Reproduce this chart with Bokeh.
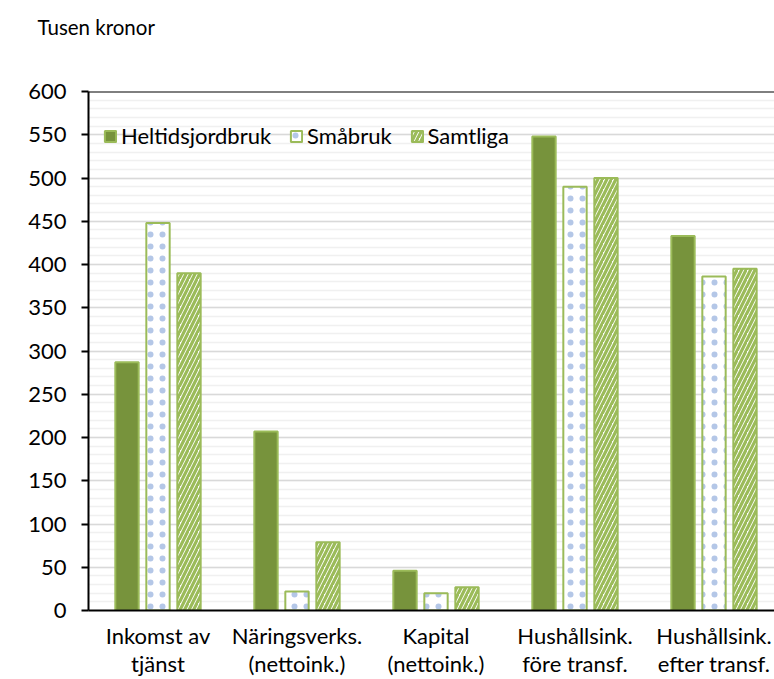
from bokeh.plotting import figure
from bokeh.models import (Range1d, FixedTicker, SingleIntervalTicker, Span, Legend,
                          LegendItem, Title, ColumnDataSource)
from bokeh.transform import dodge
from bokeh.embed import file_html
from bokeh.resources import INLINE

# ---- data ----
categories = ["Inkomst av\ntjänst", "Näringsverks.\n(nettoink.)", "Kapital\n(nettoink.)",
              "Hushållsink.\nföre transf.", "Hushållsink.\nefter transf."]
series = ["Heltidsjordbruk", "Småbruk", "Samtliga"]
heltidsjordbruk = [287, 207, 46, 548, 433]
smabruk = [448, 22, 20, 490, 386]
samtliga = [390, 79, 27, 500, 395]
y_tick_step = 50
y_max = 600
title_text = "Tusen kronor"

FONT = "Lato"
FS = "22px"
GREEN_DARK = "#77933C"
GREEN = "#9BBB59"
BLUE = "#4472C4"

W, H = 774, 679
LEFT = 88
xs = [i + 0.5 for i in range(len(categories))]
src = ColumnDataSource(dict(x=xs, h=heltidsjordbruk, s=smabruk, a=samtliga))

p = figure(width=W, height=H, x_range=Range1d(0, (W - LEFT) / 139.0), y_range=Range1d(0, y_max),
           output_backend="svg", toolbar_location=None,
           min_border_left=LEFT, min_border_right=0, min_border_bottom=60, min_border_top=0)
p.outline_line_color = None
p.background_fill_color = "white"

# spacer between title and plot frame (blank panel)
spacer = Title(text=" ", text_font_size="10px", standoff=28)
p.add_layout(spacer, "above")
t = Title(text=title_text, align="left", offset=-51, text_font=FONT, text_font_size="20.5px",
          text_font_style="normal", text_color="#000000", standoff=24)
p.title = t

bw = 0.168
off = 0.223
r1 = p.vbar(x=dodge("x", -off, range=p.x_range), top="h", width=bw, source=src,
            fill_color=GREEN_DARK, line_color=GREEN, line_width=2)
r2 = p.vbar(x=dodge("x", 0, range=p.x_range), top="s", width=bw, source=src,
            fill_color="white", line_color=GREEN, line_width=2,
            hatch_pattern="dot", hatch_color=BLUE, hatch_scale=12, hatch_weight=0.3,
            hatch_alpha=0.4)
r3 = p.vbar(x=dodge("x", off, range=p.x_range), top="a", width=bw, source=src,
            fill_color="white", line_color=GREEN, line_width=2,
            hatch_pattern="/", hatch_color=GREEN, hatch_scale=9, hatch_weight=3.2)

# y axis
yt = SingleIntervalTicker(interval=y_tick_step, num_minor_ticks=5)
p.yaxis.ticker = yt
p.ygrid.ticker = yt
p.yaxis.axis_line_color = "black"
p.yaxis.axis_line_width = 2
p.yaxis.major_tick_line_color = "black"
p.yaxis.major_tick_line_width = 2
p.yaxis.major_tick_out = 7
p.yaxis.major_tick_in = 0
p.yaxis.minor_tick_line_color = None
p.yaxis.major_label_standoff = 15
p.yaxis.major_label_text_font = FONT
p.yaxis.major_label_text_font_size = FS
p.yaxis.major_label_text_color = "black"
p.ygrid.grid_line_color = "#D9D9D9"
p.ygrid.grid_line_width = 1.5
p.ygrid.minor_grid_line_color = "#F0F0F0"
p.ygrid.minor_grid_line_width = 1.5
p.xgrid.grid_line_color = None

# x axis
p.xaxis.ticker = FixedTicker(ticks=xs)
p.xaxis.major_label_overrides = {x: c for x, c in zip(xs, categories)}
p.xaxis.axis_line_color = "black"
p.xaxis.axis_line_width = 2
p.xaxis.major_tick_line_color = None
p.xaxis.minor_tick_line_color = None
p.xaxis.major_label_standoff = 5
p.xaxis.major_label_text_font = FONT
p.xaxis.major_label_text_font_size = FS
p.xaxis.major_label_text_line_height = 1.05
p.xaxis.major_label_text_color = "black"

top_line = Span(location=y_max, dimension="width", line_color="black", line_width=2)
p.add_layout(top_line)

legend = Legend(items=[LegendItem(label=series[0], renderers=[r1]),
                       LegendItem(label=series[1], renderers=[r2]),
                       LegendItem(label=series[2], renderers=[r3])],
                orientation="horizontal", location=(15, 461),
                background_fill_alpha=0, border_line_color=None,
                glyph_width=14, glyph_height=14, label_standoff=4, spacing=18,
                padding=0, margin=0,
                label_text_font=FONT, label_text_font_size=FS, label_text_color="black")
p.add_layout(legend)

open("out.html", "w").write(file_html(p, INLINE))
